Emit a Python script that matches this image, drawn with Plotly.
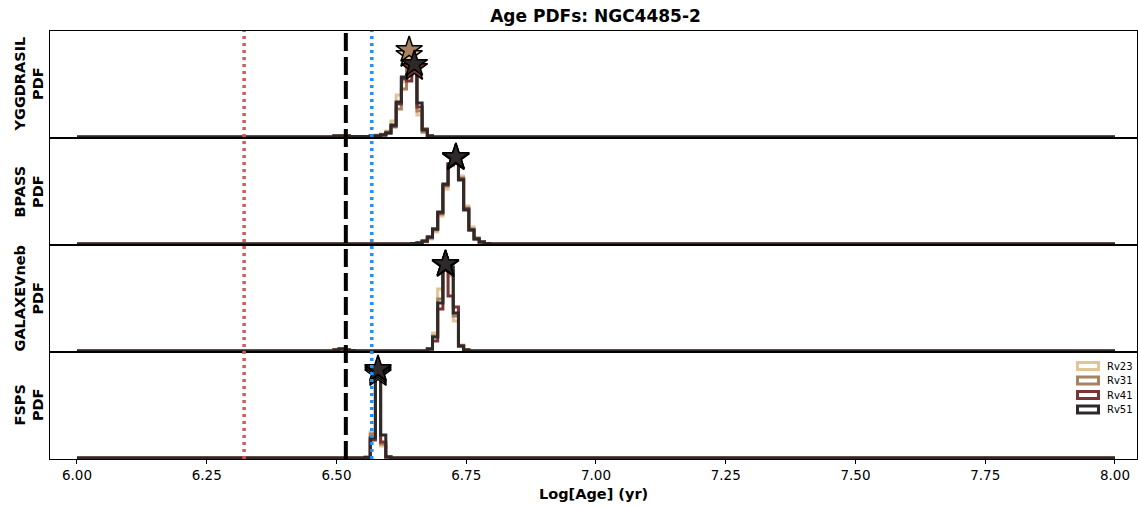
import numpy as np
import plotly.graph_objects as go
from plotly.subplots import make_subplots

# ---------------- data ----------------
TITLE = "Age PDFs: NGC4485-2"
MODELS = ["YGGDRASIL", "BPASS", "GALAXEVneb", "FSPS"]
RV_LABELS = ["Rv23", "Rv31", "Rv41", "Rv51"]
RV_COLORS = ["#e3c497", "#a98260", "#7a3434", "#2f2a2a"]

# age grid (bin centres, log yr)
AGE_MIN, AGE_MAX, AGE_STEP = 6.00, 8.00, 0.01
AGE_GRID = np.round(np.arange(AGE_MIN, AGE_MAX + AGE_STEP / 2, AGE_STEP), 2)

# first age of the non-zero stretch for each model
START_AGE = {"YGGDRASIL": 6.49, "BPASS": 6.64, "GALAXEVneb": 6.49, "FSPS": 6.55}

# PDF values (arbitrary units) from START_AGE onward, one list per Rv
ygg_rv23 = [0, 1, 1.5, 1, 0.5, 0.5, 0.5, 0.5, 1.5, 2, 3, 6, 16, 42, 55, 82, 70, 22, 5, 1, 0]
ygg_rv31 = [0, 1, 1, 1, 0.5, 0.5, 0.5, 0.5, 1, 1.5, 2.5, 5, 10, 28, 48, 87, 68, 26, 5, 1, 0]
ygg_rv41 = [0, 1, 1, 1, 0.5, 0.5, 0.5, 0.5, 1, 1, 2, 4, 11, 33, 58, 56, 69, 30, 8, 1, 0]
ygg_rv51 = [0, 1, 1, 1, 0.5, 0.5, 0.5, 0.5, 1, 1, 2, 4, 12, 35, 60, 62, 73, 34, 7, 1, 0]

bpass_rv23 = [0, 0.5, 1, 2, 5, 12, 28, 55, 78, 86, 68, 38, 17, 6, 2, 0.5, 0]
bpass_rv31 = [0, 0.5, 1, 2.5, 6, 14, 30, 58, 79, 86, 66, 36, 15, 6, 2, 0.5, 0]
bpass_rv41 = [0, 0.5, 1, 3, 7, 15, 31, 59, 80, 87, 65, 35, 14, 5, 2, 0.5, 0]
bpass_rv51 = [0, 0.5, 1, 3, 7, 15, 32, 60, 80, 87, 64, 34, 14, 5, 2, 0.5, 0]

gal_rv23 = [0, 1, 2, 1, 0.5] + [0] * 14 + [2, 18, 62, 86, 75, 30, 6, 1, 0]
gal_rv31 = [0, 1, 2, 1, 0.5] + [0] * 14 + [2, 15, 52, 87, 80, 35, 5, 1, 0]
gal_rv41 = [0, 1, 2, 1, 0.5] + [0] * 14 + [2, 10, 42, 87, 55, 44, 5, 1, 0]
gal_rv51 = [0, 1, 2, 1, 0.5] + [0] * 14 + [2, 14, 48, 87, 84, 38, 5, 1, 0]

fsps_rv23 = [0, 1, 26, 84, 12, 1, 0]
fsps_rv31 = [0, 1, 24, 86, 14, 1, 0]
fsps_rv41 = [0, 0.5, 18, 88, 16, 1, 0]
fsps_rv51 = [0, 0.5, 20, 89, 23, 1, 0]

PDFS = {
    "YGGDRASIL": [ygg_rv23, ygg_rv31, ygg_rv41, ygg_rv51],
    "BPASS": [bpass_rv23, bpass_rv31, bpass_rv41, bpass_rv51],
    "GALAXEVneb": [gal_rv23, gal_rv31, gal_rv41, gal_rv51],
    "FSPS": [fsps_rv23, fsps_rv31, fsps_rv41, fsps_rv51],
}

# reference ages (vertical lines)
VLINE_AGES = [6.322, 6.518, 6.568]
VLINE_COLORS = ["#cd5c5c", "#000000", "#1e90ff"]
VLINE_DASH = ["3px,4px", "18px,6px", "3px,4px"]
VLINE_WIDTH = [3.5, 4, 3.5]

XTICKS = [6.00, 6.25, 6.50, 6.75, 7.00, 7.25, 7.50, 7.75, 8.00]
X_RANGE = [5.948, 8.0424]
Y_RANGE = [-1, 106]

# ---------------- figure ----------------
W, H = 1138, 506
ML, MR, MT, MB = 50, 1, 31, 47
PW, PH = W - ML - MR, H - MT - MB


def px_x(px):
    return (px - ML) / PW


def px_y(py):
    return (H - MB - py) / PH


def full_pdf(model, vals):
    arr = np.zeros_like(AGE_GRID, dtype=float)
    i0 = int(round((START_AGE[model] - AGE_MIN) / AGE_STEP))
    arr[i0:i0 + len(vals)] = vals
    return arr


fig = make_subplots(rows=4, cols=1, shared_xaxes=True, vertical_spacing=0)

for r, model in enumerate(MODELS, start=1):
    series = [full_pdf(model, v) for v in PDFS[model]]
    for i, y in enumerate(series):
        fig.add_trace(go.Scatter(
            x=AGE_GRID, y=y, mode="lines",
            line=dict(color=RV_COLORS[i], width=3, shape="hvh"),
            showlegend=False, hoverinfo="skip"), row=r, col=1)
    for i, y in enumerate(series):
        k = int(np.argmax(y))
        fig.add_trace(go.Scatter(
            x=[AGE_GRID[k]], y=[y[k]], mode="markers",
            marker=dict(symbol="star", size=20, color=RV_COLORS[i],
                        line=dict(color="black", width=1.5)),
            showlegend=False, cliponaxis=False), row=r, col=1)

for v, c, d, w in zip(VLINE_AGES, VLINE_COLORS, VLINE_DASH, VLINE_WIDTH):
    fig.add_shape(type="line", xref="x", yref="paper", x0=v, x1=v, y0=0, y1=1,
                  line=dict(color=c, width=w, dash=d))

FONT = "DejaVu Sans"
for r in range(1, 5):
    fig.update_xaxes(range=X_RANGE, showline=True, mirror=True, linecolor="black",
                     linewidth=1, showgrid=False, zeroline=False, ticks="",
                     row=r, col=1)
    fig.update_yaxes(range=Y_RANGE, showline=True, mirror=True, linecolor="black",
                     linewidth=1, showgrid=False, zeroline=False, ticks="",
                     showticklabels=False, row=r, col=1)

fig.update_xaxes(ticks="outside", ticklen=4, tickwidth=1, tickcolor="black",
                 tickvals=XTICKS, ticktext=[f"{t:.2f}" for t in XTICKS],
                 tickfont=dict(family=FONT, size=13.5, color="black"),
                 row=4, col=1)

annotations = []
for r, model in enumerate(MODELS):
    yc = 1 - (r + 0.5) / 4
    annotations.append(dict(
        text=f"{model}<br>PDF", x=px_x(29), y=yc, xref="paper", yref="paper",
        xanchor="center", yanchor="middle", textangle=-90, showarrow=False,
        font=dict(family=FONT, size=14.5, color="black", weight="bold")))

annotations.append(dict(
    text="Log[Age] (yr)", x=0.5, y=px_y(494), xref="paper", yref="paper",
    xanchor="center", yanchor="middle", showarrow=False,
    font=dict(family=FONT, size=14.5, color="black", weight="bold")))

# legend (manual, bottom right of last panel)
LEG_Y = [366, 380.5, 395, 409.5]
for lab, col, yy in zip(RV_LABELS, RV_COLORS, LEG_Y):
    fig.add_shape(type="rect", xref="paper", yref="paper",
                  x0=px_x(1077.5), x1=px_x(1098.5), y0=px_y(yy - 3.5), y1=px_y(yy + 3.5),
                  line=dict(color=col, width=3), fillcolor="white")
    annotations.append(dict(
        text=lab, x=px_x(1105), y=px_y(yy), xref="paper", yref="paper",
        xanchor="left", yanchor="middle", showarrow=False,
        font=dict(family=FONT, size=10, color="black")))

fig.update_layout(
    width=W, height=H,
    margin=dict(l=ML, r=MR, t=MT, b=MB),
    plot_bgcolor="white", paper_bgcolor="white",
    title=dict(text=TITLE, x=px_x(595.5), xref="paper", xanchor="center",
               y=1 - 16 / H, yref="container", yanchor="middle",
               font=dict(family=FONT, size=17, color="black", weight="bold")),
    annotations=annotations,
    showlegend=False,
)

fig.write_html("out.html")
